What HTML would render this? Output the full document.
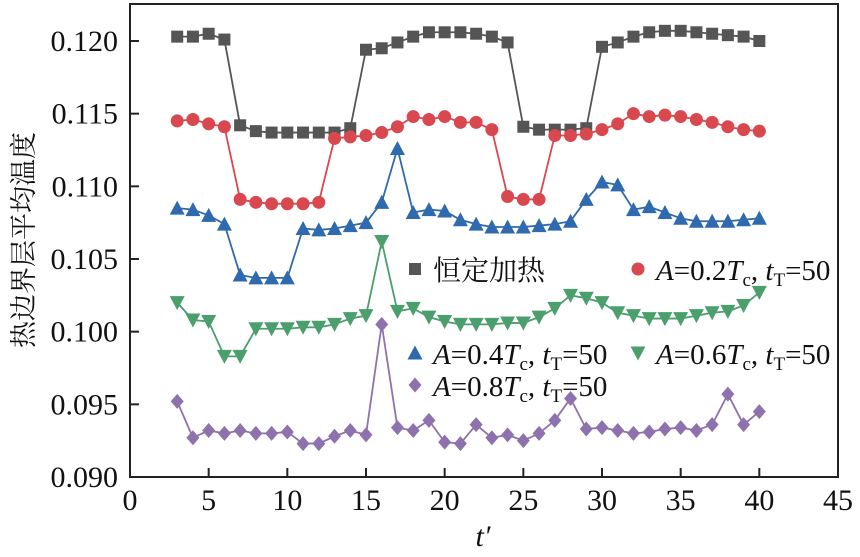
<!DOCTYPE html>
<html><head><meta charset="utf-8"><style>
body{margin:0;background:#fff}
text{font-family:"Liberation Serif","Noto Serif CJK SC",serif;fill:#111}
</style></head><body>
<svg id="chart" width="860" height="552" viewBox="0 0 860 552" xmlns="http://www.w3.org/2000/svg">
<g id="axes"></g>
<g id="series"></g>
<g id="legend"></g>
<text transform="translate(33,240) rotate(-90)" text-anchor="middle" font-size="27" style="font-family:'Noto Serif CJK SC','Noto Sans CJK SC',serif">热边界层平均温度</text>
<text x="483" y="546" text-anchor="middle" font-size="30" font-style="italic" style="font-family:'Liberation Serif',serif">t′</text>
</svg>
<script>
const xs=[3,4,5,6,7,8,9,10,11,12,13,14,15,16,17,18,19,20,21,22,23,24,25,26,27,28,29,30,31,32,33,34,35,36,37,38,39,40];
const constHeat=[0.1203,0.1203,0.1205,0.1201,0.1142,0.1138,0.1137,0.1137,0.1137,0.1137,0.1137,0.1140,0.1194,0.1195,0.1199,0.1203,0.1206,0.1206,0.1206,0.1205,0.1203,0.1199,0.1141,0.1139,0.1139,0.1139,0.1140,0.1196,0.1199,0.1203,0.1206,0.1207,0.1207,0.1206,0.1205,0.1204,0.1203,0.1200];
const a02=[0.1145,0.1146,0.1143,0.1141,0.1091,0.1089,0.1088,0.1088,0.1088,0.1089,0.1133,0.1134,0.1135,0.1137,0.1141,0.1148,0.1146,0.1148,0.1144,0.1144,0.1139,0.1093,0.1091,0.1091,0.1135,0.1135,0.1136,0.1139,0.1143,0.1150,0.1148,0.1149,0.1148,0.1146,0.1144,0.1141,0.1139,0.1138];
const a04=[0.1085,0.1084,0.1080,0.1074,0.1039,0.1037,0.1037,0.1037,0.1071,0.1070,0.1071,0.1073,0.1075,0.1089,0.1126,0.1082,0.1084,0.1083,0.1077,0.1074,0.1072,0.1072,0.1072,0.1073,0.1074,0.1076,0.1091,0.1103,0.1101,0.1084,0.1086,0.1082,0.1078,0.1076,0.1076,0.1076,0.1077,0.1078];
const a06=[0.1020,0.1008,0.1007,0.0983,0.0983,0.1002,0.1002,0.1002,0.1003,0.1003,0.1005,0.1009,0.1011,0.1062,0.1014,0.1016,0.1010,0.1007,0.1005,0.1005,0.1005,0.1006,0.1006,0.1010,0.1016,0.1025,0.1023,0.1020,0.1013,0.1011,0.1009,0.1009,0.1009,0.1011,0.1013,0.1014,0.1018,0.1027];
const a08=[0.0952,0.0927,0.0932,0.0930,0.0932,0.0930,0.0930,0.0931,0.0923,0.0923,0.0928,0.0932,0.0929,0.1005,0.0934,0.0932,0.0939,0.0924,0.0923,0.0936,0.0927,0.0929,0.0925,0.0930,0.0939,0.0954,0.0933,0.0934,0.0932,0.0930,0.0931,0.0933,0.0934,0.0932,0.0936,0.0957,0.0936,0.0945];
const xTicks=[0,5,10,15,20,25,30,35,40,45];
const yTicks=[0.090,0.095,0.100,0.105,0.110,0.115,0.120];
const yTickLabels=["0.090","0.095","0.100","0.105","0.110","0.115","0.120"];

const NS="http://www.w3.org/2000/svg";
const SERIF="font-family:'Liberation Serif',serif";
const L=130,R=838,T=4,B=477;
const xS=v=>L+(v-0)/(45-0)*(R-L);
const yS=v=>B-(v-0.090)/(0.120-0.090)*(B-41);
function mk(tag,attrs,parent){const e=document.createElementNS(NS,tag);for(const k in attrs)e.setAttribute(k,attrs[k]);parent.appendChild(e);return e;}
const ax=document.getElementById('axes');
let fr=mk('rect',{x:L,y:T,width:R-L,height:B-T,fill:'none',stroke:'#222','stroke-width':2},ax);


xTicks.forEach(t=>{
  let l=mk('line',{x1:xS(t),x2:xS(t),y1:B,y2:B-9,stroke:'#222','stroke-width':2},ax);
  
  
  let tx=mk('text',{x:xS(t),y:B+33,'text-anchor':'middle','font-size':30,style:SERIF},ax);
  tx.textContent=t;
  
  
});
yTicks.forEach((t,i)=>{
  let l=mk('line',{x1:L,x2:L+9,y1:yS(t),y2:yS(t),stroke:'#222','stroke-width':2},ax);
  
  
  let tx=mk('text',{x:L-12,y:yS(t)+10,'text-anchor':'end','font-size':30,style:SERIF},ax);
  tx.textContent=yTickLabels[i];
  
  
});
function marker(shape,x,y,c,p){
  const s=6.5;let e;
  if(shape==='sq')e=mk('rect',{x:x-s+0.5,y:y-s+0.5,width:2*s-1,height:2*s-1,fill:c},p);
  else if(shape==='ci')e=mk('circle',{cx:x,cy:y,r:s,fill:c},p);
  else if(shape==='up')e=mk('polygon',{points:`${x},${y-s-1} ${x+s+1},${y+s} ${x-s-1},${y+s}`,fill:c},p);
  else if(shape==='dn')e=mk('polygon',{points:`${x},${y+s+1} ${x+s+1},${y-s} ${x-s-1},${y-s}`,fill:c},p);
  else e=mk('polygon',{points:`${x},${y-s-1} ${x+s},${y} ${x},${y+s+1} ${x-s},${y}`,fill:c},p);
  return e;
}
const seriesDefs=[
 {name:'constant-heating',d:constHeat,c:'#555555',m:'sq'},
 {name:'a-0-2',d:a02,c:'#d9474f',m:'ci'},
 {name:'a-0-4',d:a04,c:'#2e6aad',m:'up'},
 {name:'a-0-6',d:a06,c:'#4a9f6c',m:'dn'},
 {name:'a-0-8',d:a08,c:'#8d72ad',m:'di'}];
const sg=document.getElementById('series');
seriesDefs.forEach(s=>{
  const g=mk('g',{},sg);
  
  
  const pl=mk('polyline',{points:xs.map((x,i)=>xS(x)+','+yS(s.d[i])).join(' '),fill:'none',stroke:s.c,'stroke-width':1.8},g);
  
  
  xs.forEach((x,i)=>{
    const m=marker(s.m,xS(x),yS(s.d[i]),s.c,g);
    
    
  });
});
const lg=document.getElementById('legend');
const leg=[
 {m:'sq',c:'#555555',x:415,y:269,cjk:'恒定加热'},
 {m:'ci',c:'#d9474f',x:638,y:269,a:'0.2'},
 {m:'up',c:'#2e6aad',x:415,y:353,a:'0.4'},
 {m:'dn',c:'#4a9f6c',x:638,y:353,a:'0.6'},
 {m:'di',c:'#8d72ad',x:415,y:385,a:'0.8'}];
leg.forEach(e=>{
  const g=mk('g',{},lg);
  
  
  marker(e.m,e.x,e.y,e.c,g);
  const t=mk('text',{x:e.x+18,y:e.y+11,'font-size':29},g);
  if(e.cjk){t.setAttribute('style',"font-family:'Noto Serif CJK SC','Noto Sans CJK SC',serif");t.setAttribute('font-size','28');t.textContent=e.cjk;}
  else{t.setAttribute('style',SERIF);t.innerHTML=`<tspan font-style="italic">A</tspan>=${e.a}<tspan font-style="italic">T</tspan><tspan font-size="19" dy="6">c</tspan><tspan dy="-6">, </tspan><tspan font-style="italic">t</tspan><tspan font-size="19" dy="6">T</tspan><tspan dy="-6">=50</tspan>`;}
});
</script>
</body></html>
